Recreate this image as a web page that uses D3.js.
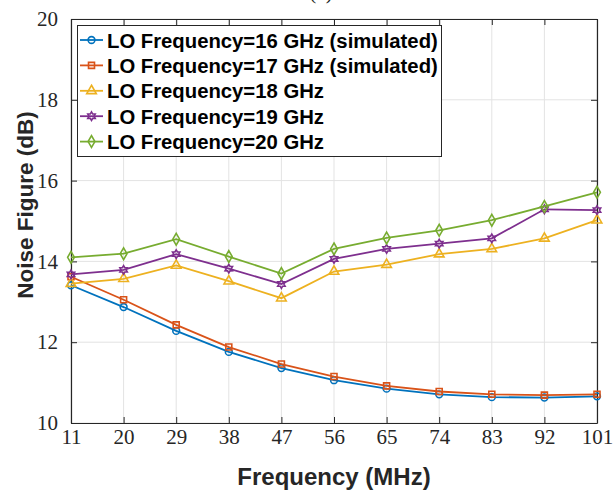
<!DOCTYPE html>
<html><head><meta charset="utf-8">
<script src="https://cdn.jsdelivr.net/npm/d3@7"></script>
<style>body{margin:0;background:#fff;}svg{display:block;}</style>
</head><body>
<svg id="chart" width="614" height="491"></svg>
<script>
const freq = [11, 20, 29, 38, 47, 56, 65, 74, 83, 92, 101];
const lo16 = [13.41, 12.87, 12.28, 11.76, 11.36, 11.06, 10.85, 10.71, 10.64, 10.63, 10.66];
const lo17 = [13.62, 13.05, 12.43, 11.88, 11.46, 11.15, 10.92, 10.78, 10.71, 10.69, 10.71];
const lo18 = [13.45, 13.57, 13.90, 13.51, 13.09, 13.75, 13.92, 14.18, 14.31, 14.57, 15.02];
const lo19 = [13.68, 13.79, 14.18, 13.82, 13.44, 14.06, 14.31, 14.44, 14.57, 15.29, 15.27];
const lo20 = [14.10, 14.19, 14.55, 14.12, 13.70, 14.31, 14.58, 14.77, 15.02, 15.36, 15.71];
const seriesNames = ["LO Frequency=16 GHz (simulated)", "LO Frequency=17 GHz (simulated)",
  "LO Frequency=18 GHz", "LO Frequency=19 GHz", "LO Frequency=20 GHz"];
const xTicks = [11, 20, 29, 38, 47, 56, 65, 74, 83, 92, 101];
const yTicks = [10, 12, 14, 16, 18, 20];
const colors = ["#0072BD", "#D95319", "#EDB120", "#7E2F8E", "#77AC30"];

const hexagram = {
  draw(ctx, size) {
    const r = Math.sqrt(size) * 0.62, ri = r * 0.58;
    for (let i = 0; i < 12; i++) {
      const a = -Math.PI / 2 + i * Math.PI / 6;
      const rr = i % 2 === 0 ? r : ri;
      if (i === 0) ctx.moveTo(rr * Math.cos(a), rr * Math.sin(a));
      else ctx.lineTo(rr * Math.cos(a), rr * Math.sin(a));
    }
    ctx.closePath();
  }
};
const symbols = [
  {type: d3.symbolCircle, size: 36},
  {type: d3.symbolSquare, size: 36},
  {type: d3.symbolTriangle, size: 40},
  {type: hexagram, size: 48},
  {type: d3.symbolDiamond, size: 40}
];

const data = [lo16, lo17, lo18, lo19, lo20];
const svg = d3.select("#chart");
const L = 71, R = 597, T = 19, B = 423;
const x = d3.scaleLinear().domain([11, 101]).range([L, R]);
const y = d3.scaleLinear().domain([10, 20]).range([B, T]);

// grid
const g = svg.append("g");
g.selectAll(".gx").data(xTicks).join("line")
  .attr("x1", d => x(d)).attr("x2", d => x(d)).attr("y1", T).attr("y2", B)
  .attr("stroke", "#e3e3e3").attr("stroke-width", 1);
g.selectAll(".gy").data(yTicks).join("line")
  .attr("x1", L).attr("x2", R).attr("y1", d => y(d)).attr("y2", d => y(d))
  .attr("stroke", "#e3e3e3").attr("stroke-width", 1);

// axes
const tickFont = "'Liberation Serif', 'DejaVu Serif', serif";
const xAxis = d3.axisBottom(x).tickValues(xTicks).tickSizeInner(-6).tickSizeOuter(0).tickPadding(15);
const xa = svg.append("g").attr("transform", `translate(0,${B})`).call(xAxis);
const xTop = svg.append("g").attr("transform", `translate(0,${T})`)
  .call(d3.axisTop(x).tickValues(xTicks).tickSizeInner(-6).tickSizeOuter(0).tickFormat(""));
const yAxis = d3.axisLeft(y).tickValues(yTicks).tickSizeInner(-6).tickSizeOuter(0).tickPadding(13);
const ya = svg.append("g").attr("transform", `translate(${L},0)`).call(yAxis);
const yRight = svg.append("g").attr("transform", `translate(${R},0)`)
  .call(d3.axisRight(y).tickValues(yTicks).tickSizeInner(-6).tickSizeOuter(0).tickFormat(""));
[xa, xTop, ya, yRight].forEach(a => {
  a.selectAll(".domain").attr("stroke", "#262626").attr("stroke-width", 1.2);
  a.selectAll(".tick line").attr("stroke", "#262626").attr("stroke-width", 1);
  a.selectAll("text").attr("font-family", tickFont).attr("font-size", 21).attr("fill", "#262626");
});
xa.selectAll("text").attr("dy", "0.3em");

// lines + markers
data.forEach((vals, i) => {
  const pts = freq.map((f, j) => [f, vals[j]]);
  svg.append("path").datum(pts)
    .attr("fill", "none").attr("stroke", colors[i]).attr("stroke-width", 1.8)
    .attr("d", d3.line().x(d => x(d[0])).y(d => y(d[1])));
  const sym = d3.symbol().type(symbols[i].type).size(symbols[i].size);
  svg.append("g").selectAll("path").data(pts).join("path")
    .attr("transform", d => `translate(${x(d[0])},${y(d[1])})`)
    .attr("d", sym).attr("fill", "none").attr("stroke", colors[i]).attr("stroke-width", 1.6);
});

// legend
const sansBold = "'Liberation Sans', Arial, sans-serif";
const lg = svg.append("g");
lg.append("rect").attr("x", 77.5).attr("y", 25.5).attr("width", 364).attr("height", 131)
  .attr("fill", "#fff").attr("stroke", "#262626").attr("stroke-width", 1);
seriesNames.forEach((name, i) => {
  const cy = 40 + i * 25.4;
  lg.append("line").attr("x1", 80).attr("x2", 103).attr("y1", cy).attr("y2", cy)
    .attr("stroke", colors[i]).attr("stroke-width", 1.8);
  lg.append("path").attr("transform", `translate(91.5,${cy})`)
    .attr("d", d3.symbol().type(symbols[i].type).size(symbols[i].size))
    .attr("fill", "none").attr("stroke", colors[i]).attr("stroke-width", 1.6);
  lg.append("text").attr("x", 107).attr("y", cy + 7.5).text(name)
    .attr("font-family", sansBold).attr("font-weight", "bold").attr("font-size", 20.3).attr("fill", "#000");
});

// labels
svg.append("text").attr("x", (L + R) / 2).attr("y", 485).attr("text-anchor", "middle")
  .attr("font-family", sansBold).attr("font-weight", "bold").attr("font-size", 24).attr("fill", "#262626")
  .text("Frequency (MHz)");
svg.append("text").attr("transform", "translate(33,205) rotate(-90)").attr("text-anchor", "middle")
  .attr("font-family", sansBold).attr("font-weight", "bold").attr("font-size", 22.5).attr("fill", "#262626")
  .text("Noise Figure (dB)");
svg.append("text").attr("x", 321).attr("y", -1).attr("text-anchor", "middle")
  .attr("font-family", tickFont).attr("font-size", 21).attr("fill", "#262626").text("(a)");
</script>
</body></html>
